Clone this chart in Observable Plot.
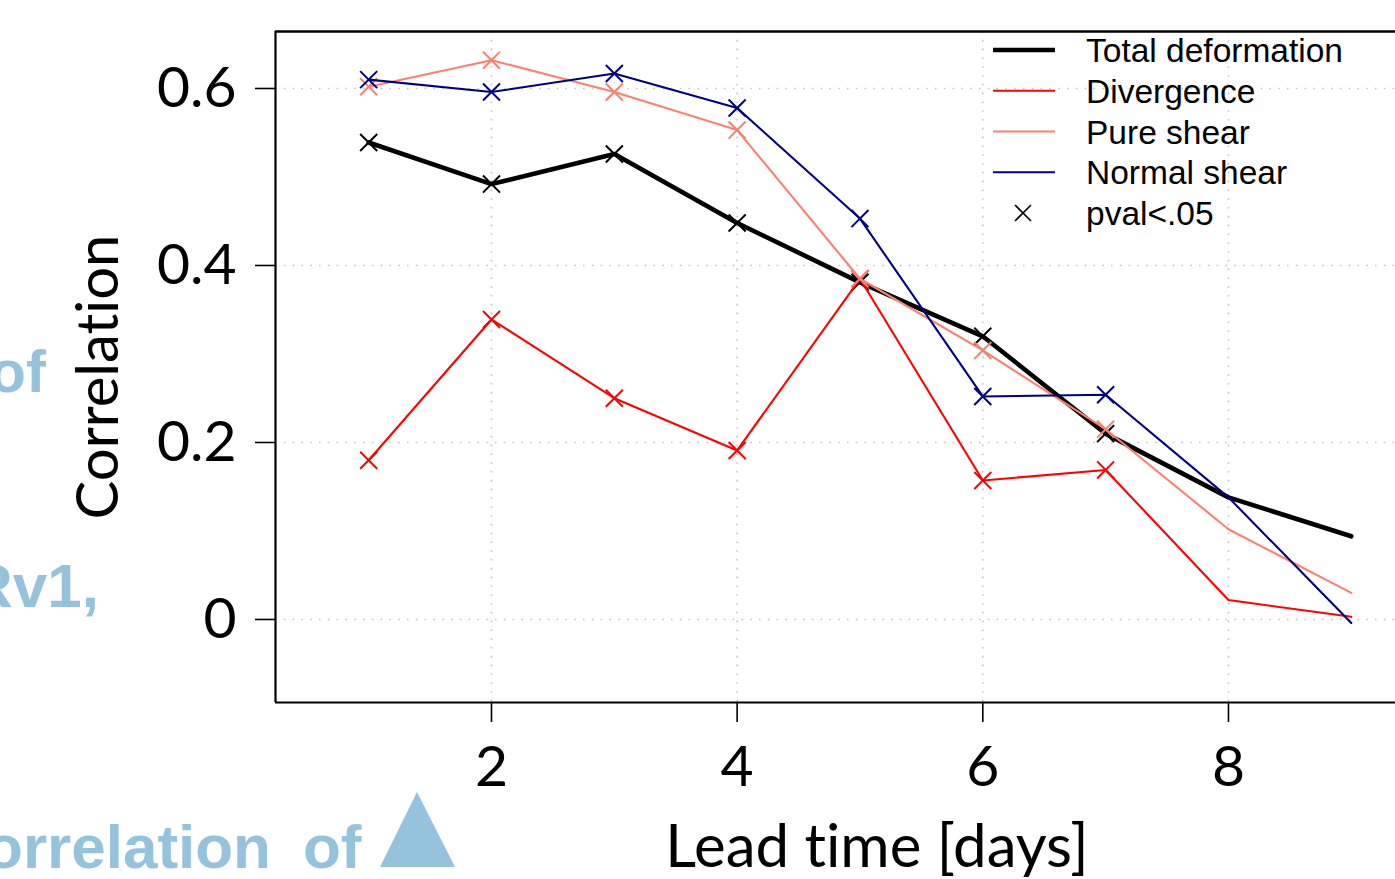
<!DOCTYPE html>
<html>
<head>
<meta charset="utf-8">
<script src="https://cdn.jsdelivr.net/npm/d3@7"></script>
<script src="https://cdn.jsdelivr.net/npm/@observablehq/plot@0.6"></script>
<style>
html, body { margin: 0; padding: 0; background: #fff; overflow: hidden; }
#chart svg { display: block; font-variant-ligatures: none; }
</style>
</head>
<body>
<div id="chart"></div>
<script>
// ---- data ----
const leadTime = [1, 2, 3, 4, 5, 6, 7, 8, 9];
const totalDeformation = [0.539, 0.492, 0.526, 0.448, 0.381, 0.320, 0.210, 0.138, 0.094];
const divergence       = [0.180, 0.339, 0.250, 0.191, 0.385, 0.157, 0.169, 0.022, 0.003];
const pureShear        = [0.602, 0.632, 0.596, 0.553, 0.385, 0.304, 0.215, 0.102, 0.030];
const normalShear      = [0.610, 0.596, 0.617, 0.578, 0.453, 0.252, 0.254, 0.138, -0.004];
const significant      = [true, true, true, true, true, true, true, false, false];

const seriesNames  = ["Total deformation", "Divergence", "Pure shear", "Normal shear"];
const seriesColors = ["#000000", "#ff0000", "#fa8072", "#000080"];
const seriesWidths = [4.6, 2.1, 2.1, 2.1];
const pvalLabel = "pval<.05";

const xTicks = [2, 4, 6, 8];
const xTickLabels = ["2", "4", "6", "8"];
const yTicks = [0, 0.2, 0.4, 0.6];
const yTickLabels = ["0", "0.2", "0.4", "0.6"];
const xDomain = [0.2415, 9.36];
const yDomain = [-0.0938, 0.6644];
const xLabel = "Lead time [days]";
const yLabel = "Correlation";

// slide text behind the figure
const bgTexts = ["of", "Rv1,", "orrelation", "of"];

// ---- build table ----
const seriesValues = [totalDeformation, divergence, pureShear, normalShear];
const rows = seriesNames.flatMap((name, s) =>
  leadTime.map((t, i) => ({series: name, t, r: seriesValues[s][i], sig: significant[i]})));

const W = 1395, H = 879;
const gridStyle = {stroke: "#c4c4c4", strokeOpacity: 1, strokeWidth: 1.6, strokeDasharray: "1.6,7.2"};

const seriesMarks = seriesNames.flatMap((name, s) => [
  Plot.line(rows.filter(d => d.series === name), {
    x: "t", y: "r", stroke: seriesColors[s], strokeWidth: seriesWidths[s], strokeLinejoin: "round"
  }),
  Plot.dot(rows.filter(d => d.series === name && d.sig), {
    x: "t", y: "r", symbol: "times", r: 7.8, stroke: seriesColors[s], strokeWidth: 2
  })
]);

const svg = Plot.plot({
  width: W, height: H,
  marginLeft: 275, marginRight: 0, marginTop: 31, marginBottom: 177,
  style: {fontFamily: "Lato, 'Open Sans', sans-serif", background: "#fff", color: "#000"},
  x: {domain: xDomain},
  y: {domain: yDomain},
  marks: [
    Plot.gridX(xTicks, gridStyle),
    Plot.gridY(yTicks, gridStyle),
    Plot.axisX(xTicks, {tickSize: 20, tickPadding: 23, fontSize: 57, label: null, strokeWidth: 1.6,
      tickFormat: d => xTickLabels[xTicks.indexOf(d)]}),
    Plot.axisY(yTicks, {tickSize: 20, tickPadding: 19, fontSize: 57, label: null, strokeWidth: 1.6,
      tickFormat: d => yTickLabels[yTicks.indexOf(d)]}),
    Plot.ruleY([yDomain[1]], {stroke: "#000", strokeWidth: 2.4}),
    Plot.ruleY([yDomain[0]], {stroke: "#000", strokeWidth: 2.2}),
    Plot.ruleX([xDomain[0]], {stroke: "#000", strokeWidth: 2.2}),
    ...seriesMarks
  ]
});

document.getElementById("chart").appendChild(svg);

const g = d3.select(svg);

// axis titles
g.append("text")
  .attr("x", 877).attr("y", 867)
  .attr("text-anchor", "middle")
  .attr("font-family", "Lato, 'Open Sans', sans-serif")
  .attr("font-size", 60).attr("fill", "#000")
  .text(xLabel);
g.append("text")
  .attr("transform", "translate(118,377) rotate(-90)")
  .attr("text-anchor", "middle")
  .attr("font-family", "Lato, 'Open Sans', sans-serif")
  .attr("font-size", 58).attr("fill", "#000")
  .text(yLabel);

// legend
const leg = g.append("g").attr("font-family", "'Liberation Sans', Arial, sans-serif").attr("font-size", 33.5)
  .attr("text-anchor", "start");
const rowY = i => 50 + i * 40.75;
seriesNames.forEach((name, i) => {
  leg.append("line").attr("x1", 993).attr("x2", 1055).attr("y1", rowY(i)).attr("y2", rowY(i))
    .attr("stroke", seriesColors[i]).attr("stroke-width", seriesWidths[i]);
  leg.append("text").attr("x", 1086).attr("y", rowY(i)).attr("dy", "0.36em").attr("fill", "#000").text(name);
});
{
  const y = rowY(4), cx = 1023, s = 8;
  leg.append("path").attr("d", `M${cx - s},${y - s}L${cx + s},${y + s}M${cx - s},${y + s}L${cx + s},${y - s}`)
    .attr("stroke", "#000").attr("stroke-width", 1.6).attr("fill", "none");
  leg.append("text").attr("x", 1086).attr("y", y).attr("dy", "0.36em").attr("fill", "#000").text(pvalLabel);
}

// background slide text (light blue)
const bg = g.append("g").attr("fill", "#95c3de").attr("font-family", "'Liberation Sans', Arial, sans-serif")
  .attr("font-weight", "bold");
bg.append("text").attr("x", 46).attr("y", 392).attr("text-anchor", "end").attr("font-size", 60).text(bgTexts[0]);
bg.append("text").attr("x", 99).attr("y", 607).attr("text-anchor", "end").attr("font-size", 62).text(bgTexts[1]);
bg.append("text").attr("x", 271).attr("y", 868).attr("text-anchor", "end").attr("font-size", 62).text(bgTexts[2]);
bg.append("text").attr("x", 303).attr("y", 868).attr("text-anchor", "start").attr("font-size", 62).text(bgTexts[3]);
bg.append("path").attr("d", "M417,792L455,867L380,867Z");
</script>
</body>
</html>
